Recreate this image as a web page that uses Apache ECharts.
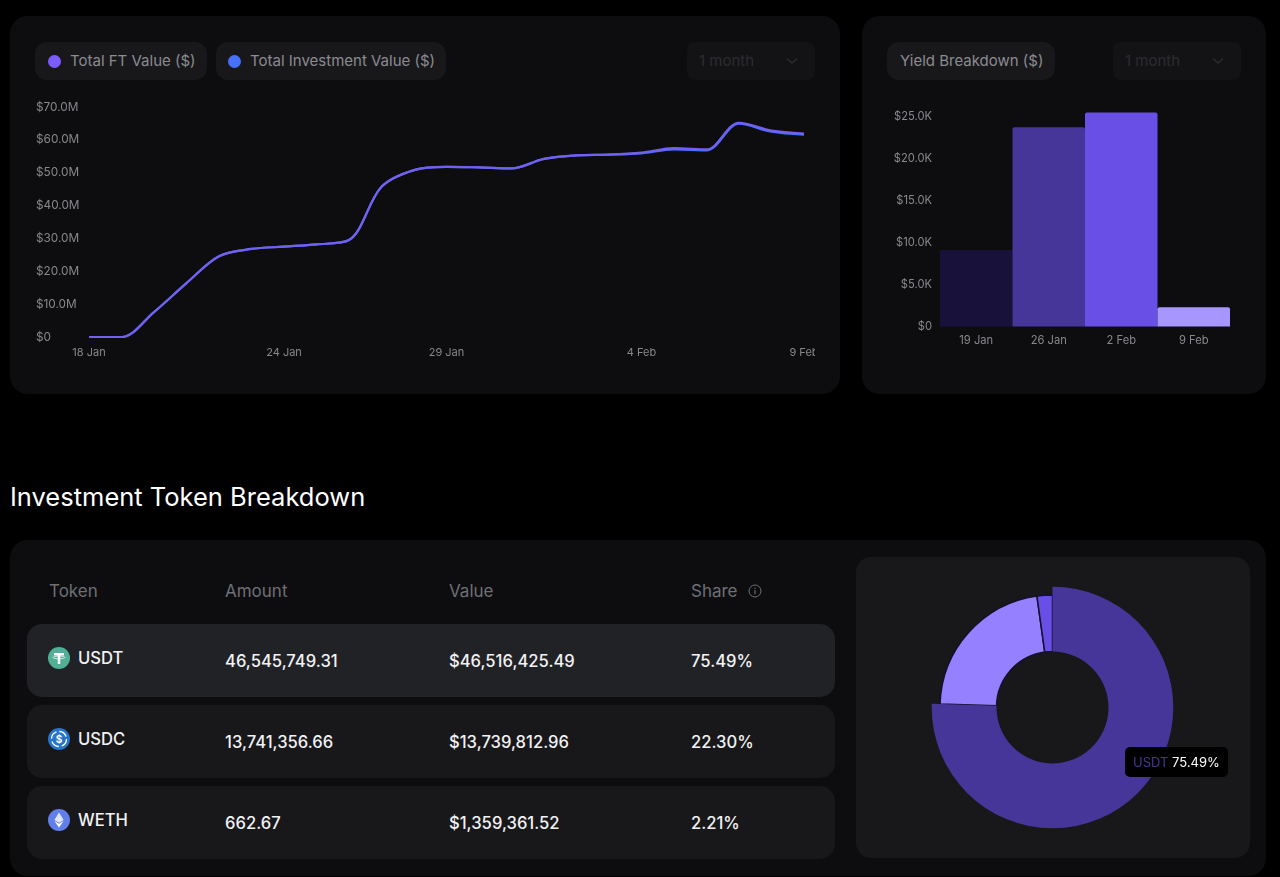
<!DOCTYPE html>
<html>
<head>
  <meta charset="utf-8">
  <title>Investment dashboard</title>
  <script src="https://cdn.jsdelivr.net/npm/echarts@6/dist/echarts.min.js"></script>
  <style>
    html, body { margin: 0; padding: 0; background: #000; }
    body { position: relative; width: 1280px; height: 877px; overflow: hidden; font-family: Inter, "Noto Sans", sans-serif; }
    .box { position: absolute; box-sizing: border-box; }
    .panel { background: #0d0d10; border-radius: 18px; }
    .pill { background: #18181b; border-radius: 12px; height: 38px; top: 42px; color: #8b8b91; font-size: 15px; line-height: 38px; white-space: nowrap; }
    .dot { position: absolute; width: 13px; height: 13px; border-radius: 50%; top: 12.5px; }
    .drop { background: #131316; border-radius: 8px; width: 128px; height: 38px; top: 42px; color: #2c2c30; font-size: 15px; line-height: 38px; padding-left: 12px; }
    .drop svg { position: absolute; right: 17px; top: 15px; }
    .row { left: 27px; width: 808px; height: 73px; border-radius: 15px; background: #18181b; }
    .head { color: #6f6f75; font-size: 17px; top: 581px; line-height: 21px; }
    .cell { color: #f2f2f4; font-size: 16.6px; line-height: 21px; white-space: nowrap; font-weight: 500; }
  </style>
</head>
<body>
  <div class="box panel" style="left:10px;top:16px;width:830px;height:378px"></div>
  <div class="box panel" style="left:862px;top:16px;width:404px;height:378px"></div>

  <div class="box pill" style="left:35px;width:172px;padding-left:35px"><span class="dot" style="left:13px;background:#7b5cff"></span>Total FT Value ($)</div>
  <div class="box pill" style="left:216px;width:230px;padding-left:34px"><span class="dot" style="left:12px;background:#4670fa"></span>Total Investment Value ($)</div>
  <div class="box drop" style="left:687px">1 month<svg width="12" height="8" viewBox="0 0 12 8"><path d="M1 1.5 L6 6 L11 1.5" fill="none" stroke="#2c2c30" stroke-width="1.5"/></svg></div>
  <div class="box pill" style="left:887px;width:168px;padding-left:13px">Yield Breakdown ($)</div>
  <div class="box drop" style="left:1113px">1 month<svg width="12" height="8" viewBox="0 0 12 8"><path d="M1 1.5 L6 6 L11 1.5" fill="none" stroke="#2c2c30" stroke-width="1.5"/></svg></div>

  <div id="lineChart" class="box" style="left:10px;top:90px;width:805px;height:285px"></div>
  <div id="barChart" class="box" style="left:862px;top:90px;width:404px;height:285px"></div>

  <div class="box" style="left:10px;top:481px;color:#fff;font-size:25.5px;line-height:32px;white-space:nowrap">Investment Token Breakdown</div>

  <div class="box panel" style="left:10px;top:540px;width:1256px;height:336px"></div>
  <div class="box" style="left:856px;top:557px;width:394px;height:301px;background:#18181b;border-radius:15px"></div>
  <div id="table"></div>
  <div id="pieChart" class="box" style="left:856px;top:557px;width:394px;height:301px"></div>

  <script type="text/javascript">
    // line chart, one value per day, in $M
    var lineDates = ['18 Jan','19 Jan','20 Jan','21 Jan','22 Jan','23 Jan','24 Jan','25 Jan','26 Jan','27 Jan','28 Jan','29 Jan','30 Jan','31 Jan','1 Feb','2 Feb','3 Feb','4 Feb','5 Feb','6 Feb','7 Feb','8 Feb','9 Feb'];
    var lineTickDates = ['18 Jan','24 Jan','29 Jan','4 Feb','9 Feb'];
    var ftValues = [0,0,7.6,16.4,24.6,26.8,27.5,28.2,29.5,45.7,50.8,51.8,51.6,51.3,54.2,55.3,55.5,56.1,57.5,57.1,65.2,62.8,61.9];
    var investmentValues = [0,0,7.6,16.4,24.6,26.8,27.5,28.2,29.5,45.7,50.8,51.8,51.6,51.3,54.2,55.3,55.5,55.9,57.1,56.8,64.9,62.5,61.6];

    // weekly yield, in $K
    var yieldWeeks = ['19 Jan','26 Jan','2 Feb','9 Feb'];
    var yieldValues = [9.1,23.7,25.45,2.3];
    var yieldColors = ['#18123a','#47369a','#6a4fe6','#a896ff'];

    // token table and donut
    var tokenNames = ['USDT','USDC','WETH'];
    var tokenAmounts = ['46,545,749.31','13,741,356.66','662.67'];
    var tokenValues = ['$46,516,425.49','$13,739,812.96','$1,359,361.52'];
    var tokenShares = [75.49,22.30,2.21];
    var tokenColors = ['#47369a','#9580ff','#6a4fe6'];
    var tableHeads = ['Token','Amount','Value','Share'];

    var labelColor = '#88888c';
    var labelFont = 'Inter, "Noto Sans", sans-serif';

    // token icons
    var tokenIcons = [
      '<svg width="22" height="22" viewBox="0 0 22 22"><circle cx="11" cy="11" r="11" fill="#50af95"/><path d="M6 6h10v2.4h-3.7V17h-2.6V8.400H6z" fill="#fff"/><ellipse cx="11" cy="10.500" rx="6" ry="1.300" fill="none" stroke="#fff" stroke-width=".7"/></svg>',
      '<svg width="22" height="22" viewBox="0 0 22 22"><circle cx="11" cy="11" r="11" fill="#2775ca"/><circle cx="11" cy="11" r="7.500" fill="none" stroke="#fff" stroke-width="1.300" stroke-dasharray="9 2.800"/><text x="11" y="14.500" text-anchor="middle" font-size="10" font-weight="700" fill="#fff" font-family="Inter">$</text></svg>',
      '<svg width="22" height="22" viewBox="0 0 22 22"><circle cx="11" cy="11" r="11" fill="#627eea"/><path d="M11 3.500 L15.600 11 L11 13.700 L6.400 11 Z" fill="#dfe5fb"/><path d="M11 14.700 L15.600 12 L11 18.500 L6.400 12 Z" fill="#fff"/></svg>'
    ];

    // table is plain html, built from the arrays above
    var html = '';
    var headX = [49,225,449,691];
    for (var h = 0; h < tableHeads.length; h++) {
      html += '<div class="box head" style="left:' + headX[h] + 'px">' + tableHeads[h] + '</div>';
    }
    html += '<svg class="box" style="left:748px;top:584px" width="14" height="14" viewBox="0 0 14 14"><circle cx="7" cy="7" r="6" fill="none" stroke="#6f6f75"/><path d="M7 6v4.300M7 3.700v1.200" stroke="#6f6f75" stroke-width="1.100"/></svg>';
    var rowTop = [624,705,786];
    for (var i = 0; i < tokenNames.length; i++) {
      var t = rowTop[i];
      html += '<div class="box row" style="top:' + t + 'px' + (i == 0 ? ';background:#212226' : '') + '"></div>';
      html += '<div class="box" style="left:48px;top:' + (t + 23) + 'px;height:22px">' + tokenIcons[i] + '</div>';
      html += '<div class="box cell" style="left:78px;top:' + (t + 24) + 'px">' + tokenNames[i] + '</div>';
      html += '<div class="box cell" style="left:225px;top:' + (t + 27) + 'px">' + tokenAmounts[i] + '</div>';
      html += '<div class="box cell" style="left:449px;top:' + (t + 27) + 'px">' + tokenValues[i] + '</div>';
      html += '<div class="box cell" style="left:691px;top:' + (t + 27) + 'px">' + tokenShares[i].toFixed(2) + '%</div>';
    }
    document.getElementById('table').innerHTML = html;

    var lineChart = echarts.init(document.getElementById('lineChart'));
    lineChart.setOption({
      animation: false,
      // 9 Feb label runs off the canvas on purpose, same as the original
      grid: { left: 79, right: 11, top: 17, height: 230, outerBoundsMode: 'none' },
      xAxis: {
        type: 'category',
        boundaryGap: false,
        data: lineDates,
        axisLine: { show: false },
        axisTick: { show: false },
        axisLabel: {
          color: labelColor, fontFamily: labelFont, fontSize: 11, margin: 10,
          interval: function (index, value) { return lineTickDates.indexOf(value) >= 0; }
        }
      },
      yAxis: {
        type: 'value', min: 0, max: 70, interval: 10,
        splitLine: { show: false },
        axisLine: { show: false },
        axisTick: { show: false },
        axisLabel: {
          color: labelColor, fontFamily: labelFont, fontSize: 11.8, align: 'left', margin: 53,
          padding: [2, 0, 0, 0],
          formatter: function (v) { return v == 0 ? '$0' : '$' + v.toFixed(1) + 'M'; }
        }
      },
      series: [
        { name: 'Total Investment Value ($)', type: 'line', data: investmentValues, smooth: 0.33, showSymbol: false, lineStyle: { color: '#4670fa', width: 2.2 } },
        { name: 'Total FT Value ($)', type: 'line', data: ftValues, smooth: 0.33, showSymbol: false, lineStyle: { color: '#7360f0', width: 2.2 } }
      ]
    });

    var barChart = echarts.init(document.getElementById('barChart'));
    barChart.setOption({
      animation: false,
      grid: { left: 78, right: 36, top: 18, height: 218.500, outerBoundsMode: 'none' },
      xAxis: {
        type: 'category',
        data: yieldWeeks,
        axisLine: { show: false },
        axisTick: { show: false },
        axisLabel: { color: labelColor, fontFamily: labelFont, fontSize: 11.2, margin: 9 }
      },
      yAxis: {
        type: 'value', min: 0, max: 26, interval: 5,
        splitLine: { show: false },
        axisLine: { show: false },
        axisTick: { show: false },
        axisLabel: {
          color: labelColor, fontFamily: labelFont, fontSize: 11.2, margin: 8, showMaxLabel: false,
          formatter: function (v) { return v == 0 ? '$0' : '$' + v.toFixed(1) + 'K'; }
        }
      },
      series: [{
        type: 'bar',
        barWidth: '100%',
        data: yieldValues.map(function (v, idx) {
          return { value: v, itemStyle: { color: yieldColors[idx], borderRadius: [2, 2, 0, 0] } };
        })
      }]
    });

    var pieChart = echarts.init(document.getElementById('pieChart'));
    pieChart.setOption({
      animation: false,
      tooltip: {
        trigger: 'item',
        alwaysShowContent: true,
        transitionDuration: 0,
        position: [269, 190],
        backgroundColor: '#000',
        borderWidth: 0,
        padding: [5, 8],
        extraCssText: 'box-shadow:none;border-radius:5px;',
        textStyle: { fontFamily: labelFont, fontSize: 13, color: '#fff' },
        formatter: function (p) {
          return '<span style="color:' + p.color + '">' + p.name + '</span> ' + p.value.toFixed(2) + '%';
        }
      },
      series: [{
        type: 'pie',
        center: [196.500, 150.500],
        radius: [56, 112.500],
        startAngle: 90,
        label: { show: false },
        labelLine: { show: false },
        itemStyle: { borderColor: '#15112c', borderWidth: 1.5 },
        emphasis: { scale: true, scaleSize: 8.300, label: { show: false } },
        data: tokenNames.map(function (n, idx) {
          return {
            name: n, value: tokenShares[idx],
            itemStyle: { color: tokenColors[idx] },
            emphasis: { itemStyle: { color: tokenColors[idx], borderWidth: 0 } }
          };
        })
      }]
    });
    // USDT slice is hovered in the picture
    pieChart.dispatchAction({ type: 'highlight', seriesIndex: 0, dataIndex: 0 });
    pieChart.dispatchAction({ type: 'showTip', seriesIndex: 0, dataIndex: 0 });
  </script>
</body>
</html>
